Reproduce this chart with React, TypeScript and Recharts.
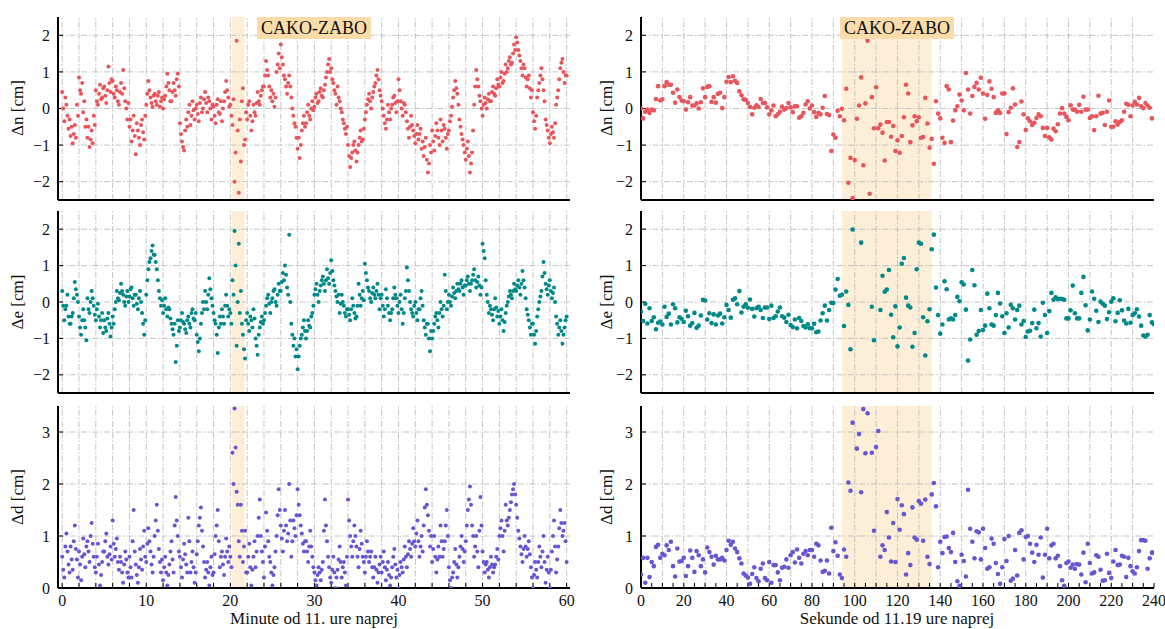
import React from 'react';
import { ScatterChart, Scatter, XAxis, YAxis, ReferenceLine, ReferenceArea } from 'recharts';

const FONT = '"Liberation Serif", "DejaVu Serif", serif';

// left column: minutes after 11h, eight readings per minute (one row = one minute)
const minuteDn = [
  0.45, 0.0, -0.35, 0.3, 0.1, -0.2, -0.55, -0.3,
  -0.75, -0.5, -0.95, -0.7, -0.45, -0.8, 0.1, -0.2,
  0.85, 0.5, 0.4, 0.7, -0.1, 0.2, -0.5, -0.3,
  -0.8, -0.5, -1.05, -0.85, -0.6, -0.95, -0.2, -0.45,
  0.5, 0.2, 0.1, 0.4, 0.65, 0.25, 0.3, 0.55,
  0.6, 0.35, 0.15, 0.5, 1.15, 0.7, 0.45, 0.8,
  0.75, 0.4, 0.3, 0.6, 0.5, 0.2, 0.1, 0.45,
  0.7, 0.4, 1.05, 0.55, 0.2, 0.0, -0.3, 0.15,
  -0.5, -0.3, -0.9, -0.6, -0.2, -0.75, -1.25, -0.4,
  -0.6, -0.8, -1.0, -0.45, -0.3, -0.65, -0.85, -0.2,
  0.1, 0.4, 0.75, 0.5, 0.3, 0.15, 0.05, 0.35,
  0.4, 0.2, 0.1, 0.35, 0.45, 0.05, 0.2, 0.3,
  0.0, 0.25, 0.35, 0.6, 0.95, 0.7, 0.5, 0.2,
  0.2, 0.45, 0.7, 0.5, 0.35, 0.8, 0.95, 0.6,
  -0.4, -0.7, -0.9, -1.05, -1.15, -0.6, -0.3, -0.5,
  -0.1, 0.1, -0.45, -0.2, 0.2, -0.05, -0.3, 0.0,
  0.1, -0.15, -0.35, 0.15, 0.3, -0.1, 0.0, 0.25,
  0.45, 0.15, -0.1, 0.3, 0.2, 0.0, -0.3, 0.1,
  0.05, -0.2, -0.4, 0.1, 0.25, -0.1, -0.15, 0.2,
  -0.35, 0.0, 0.2, 0.45, 0.75, 0.5, 0.3, 0.05,
  0.1, -0.2, -0.45, 0.25, -2.0, -1.2, 1.85, -0.6,
  -2.3, -0.3, -1.45, 0.2, 0.55, -1.0, -0.85, -0.1,
  -0.3, 0.1, 0.2, -0.2, -0.6, -0.35, 0.1, -0.1,
  -0.2, 0.15, 0.45, 0.2, 0.1, 0.35, 0.5, 0.6,
  0.6, 0.9, 1.3, 1.05, 0.9, 0.6, 0.3, 0.5,
  0.2, 0.4, 0.05, 0.3, 1.0, 1.2, 1.5, 1.1,
  1.75, 1.4, 1.2, 0.9, 0.8, 0.6, 0.4, 0.7,
  0.9, 0.6, 0.3, 0.0, -0.2, -0.4, -0.5, -0.8,
  -1.1, -0.8, -1.35, -1.0, -0.6, -0.4, -0.2, -0.5,
  -0.4, -0.1, 0.1, -0.2, -0.3, 0.0, 0.2, -0.05,
  0.05, 0.3, 0.4, 0.15, 0.2, 0.45, 0.55, 0.35,
  0.3, 0.5, 0.65, 0.85, 1.0, 1.2, 1.35, 1.0,
  1.1, 0.8, 0.7, 0.5, 0.4, 0.1, 0.6, 0.3,
  0.2, 0.0, -0.1, -0.3, -0.4, -0.55, -0.7, -0.5,
  -1.0, -1.3, -1.6, -1.35, -1.2, -1.0, -0.9, -1.15,
  -1.45, -1.2, -1.0, -0.8, -0.6, -0.9, -0.85, -0.55,
  -0.3, -0.1, 0.1, 0.25, 0.4, 0.2, 0.0, 0.3,
  0.45, 0.6, 0.7, 0.9, 1.05, 0.8, 0.5, 0.35,
  0.2, 0.0, -0.2, -0.4, -0.55, -0.3, 0.1, -0.1,
  -0.3, 0.0, 0.1, 0.3, 0.35, 0.15, -0.1, 0.2,
  0.8, 0.5, 0.2, 0.0, -0.2, 0.15, 0.1, -0.1,
  -0.35, -0.55, -0.8, -0.5, -0.2, -0.45, -0.6, -0.75,
  -0.95, -0.7, -0.45, -0.85, -0.7, -0.55, -1.1, -0.9,
  -1.3, -1.05, -0.8, -1.4, -1.75, -1.5, -1.0, -1.2,
  -0.6, -0.9, -1.15, -0.75, -0.4, -0.6, -0.8, -1.0,
  -0.3, -0.6, -0.9, -0.45, -0.55, -0.8, -1.1, -0.7,
  -0.6, -0.35, -0.2, 0.05, 0.3, 0.5, 0.75, 0.55,
  0.4, 0.1, -0.3, -0.5, -0.7, -0.85, -1.0, -1.2,
  -1.4, -1.1, -0.9, -1.3, -1.75, -1.5, -1.2, -0.6,
  0.1, 0.6, 1.05, 0.8, 0.6, 0.35, 0.2, 0.0,
  -0.2, 0.1, 0.3, 0.15, 0.0, 0.25, 0.4, 0.2,
  0.2, 0.45, 0.6, 0.4, 0.35, 0.55, 0.8, 0.65,
  0.6, 0.85, 1.0, 0.7, 0.75, 0.95, 1.2, 1.0,
  1.1, 1.3, 1.4, 1.2, 1.25, 1.5, 1.75, 1.6,
  1.95, 1.8, 1.6, 1.45, 1.3, 1.1, 0.9, 1.2,
  1.1, 0.85, 0.6, 0.8, 0.9, 0.55, 0.3, 0.5,
  -0.1, -0.35, -0.55, -0.2, 0.3, 0.5, 0.7, 0.9,
  1.1, 0.8, 0.5, 0.2, -0.3, -0.45, -0.6, -0.8,
  -0.95, -0.7, -0.5, -0.65, -0.8, -0.4, 0.1, 0.3,
  0.5, 0.8, 1.1, 1.25, 1.35, 1.0, 0.7, 0.9,
  0.9,
];

const minuteDe = [
  0.3, -0.1, -0.5, -0.2, -0.1, 0.2, -0.4, -0.6,
  -0.6, -0.4, -0.3, 0.1, 0.55, 0.35, 0.2, 0.0,
  -0.4, -0.7, -0.9, -0.5, -0.2, -0.5, -0.7, -1.05,
  0.1, -0.2, -0.3, 0.0, 0.3, 0.1, -0.1, -0.35,
  -0.5, -0.2, -0.05, -0.4, -0.7, -0.5, -0.3, -0.85,
  -0.5, -0.7, -0.8, -0.45, -0.3, -0.6, -0.95, -0.7,
  -0.4, -0.6, -0.2, 0.0, 0.3, 0.1, 0.05, 0.25,
  0.5, 0.3, 0.2, 0.0, -0.1, 0.15, 0.3, 0.0,
  0.15, 0.35, 0.4, 0.1, -0.1, 0.2, 0.2, -0.05,
  -0.2, 0.1, 0.3, 0.0, -0.3, -0.6, -0.9, -0.5,
  0.2, 0.6, 0.9, 1.1, 1.2, 1.4, 1.55, 1.3,
  1.3, 1.1, 0.9, 0.6, 0.3, 0.1, -0.1, 0.05,
  -0.3, -0.1, 0.1, -0.2, -0.4, -0.15, -0.2, -0.45,
  -0.6, -0.75, -0.9, -0.6, -1.65, -1.2, -0.5, -0.8,
  -0.7, -0.5, -0.3, -0.55, -0.6, -0.75, -0.85, -0.5,
  -0.4, -0.6, -0.7, -0.3, -0.2, -0.45, -0.5, -0.3,
  -0.9, -1.1, -1.35, -1.0, -0.6, -0.3, 0.0, -0.2,
  0.3, 0.0, -0.2, 0.2, 0.65, 0.35, 0.1, -0.1,
  -0.3, -0.5, -0.6, -0.9, -1.4, -0.7, -0.4, -0.6,
  -0.2, -0.4, -0.6, -0.1, 0.2, -0.1, -0.4, -0.2,
  -0.3, -0.6, 0.6, 0.2, 1.95, 1.0, -1.2, 0.0,
  1.6, -0.3, 0.3, -0.6, -0.9, -1.3, -1.55, -0.5,
  -0.3, -0.6, -0.8, -0.4, -0.5, -0.7, -0.2, -0.45,
  -1.0, -1.2, -1.45, -0.9, -0.7, -0.55, -0.4, -0.6,
  -0.5, -0.3, -0.1, 0.1, 0.2, -0.05, -0.3, 0.0,
  0.1, 0.3, 0.35, 0.0, -0.1, 0.2, 0.5, 0.3,
  0.3, 0.55, 0.8, 0.6, 1.0, 0.75, 0.4, 0.2,
  1.85, 0.0, -0.6, -0.9, -1.2, -1.0, -1.5, -1.3,
  -1.85, -1.5, -1.2, -1.0, -0.9, -0.7, -0.5, -0.8,
  -1.0, -0.8, -0.5, -0.65, -0.7, -0.4, -0.3, -0.1,
  0.2, 0.35, 0.5, 0.2, 0.0, 0.3, 0.45, 0.6,
  0.7, 0.5, 0.3, 0.6, 0.9, 0.65, 0.5, 0.8,
  1.15, 0.85, 0.6, 0.45, 0.3, 0.15, 0.0, 0.2,
  -0.3, -0.05, 0.2, 0.0, -0.1, -0.3, -0.4, -0.2,
  -0.2, -0.35, -0.5, -0.2, 0.1, -0.1, -0.3, -0.45,
  -0.4, -0.1, 0.5, 0.2, -0.1, 0.1, 0.3, 0.05,
  1.05, 0.8, 0.6, 0.4, 0.3, 0.1, 0.0, 0.25,
  0.4, 0.2, 0.1, 0.3, 0.5, 0.2, -0.2, 0.1,
  0.2, -0.1, -0.4, -0.2, 0.35, 0.1, -0.1, -0.3,
  -0.5, -0.3, -0.2, 0.1, 0.4, 0.2, 0.1, -0.1,
  -0.3, 0.0, 0.2, -0.2, -0.6, -0.3, 0.1, 0.3,
  0.95, 0.6, 0.3, 0.0, -0.2, -0.3, -0.4, -0.1,
  0.0, -0.3, -0.5, -0.2, -0.2, 0.1, 0.3, -0.1,
  -0.5, -0.7, -0.9, -0.6, -0.6, -1.0, -1.35, -0.8,
  -1.0, -0.8, -0.6, -0.4, -0.3, -0.5, -0.7, -0.3,
  0.0, -0.2, -0.4, -0.1, 0.75, 0.3, -0.2, 0.0,
  0.2, 0.0, -0.1, 0.15, 0.4, 0.25, 0.1, 0.3,
  0.5, 0.35, 0.3, 0.5, 0.6, 0.4, 0.2, 0.45,
  0.45, 0.6, 0.7, 0.5, 0.3, 0.5, 0.6, 0.75,
  0.9, 0.6, 0.4, 0.55, 0.7, 0.45, 0.2, 0.4,
  1.6, 1.4, 1.2, 0.6, 0.2, 0.0, -0.3, -0.1,
  -0.2, -0.35, -0.5, -0.2, 0.1, -0.15, -0.4, -0.25,
  -0.6, -0.4, -0.2, -0.5, -0.8, -0.55, -0.3, -0.1,
  0.0, 0.15, 0.3, 0.2, 0.1, 0.3, 0.5, 0.35,
  0.3, 0.45, 0.6, 0.4, 0.2, 0.5, 0.85, 0.6,
  0.4, 0.1, -0.2, -0.35, -0.5, -0.7, -0.9, -0.6,
  -0.6, -0.9, -1.15, -0.8, -0.4, -0.2, 0.0, 0.15,
  0.3, 0.7, 1.1, 0.8, 0.5, 0.35, 0.2, 0.45,
  0.6, 0.3, 0.1, 0.25, 0.4, 0.0, -0.4, -0.6,
  -0.9, -0.7, -0.5, -0.8, -1.15, -0.9, -0.7, -0.5,
  -0.4,
];

const minuteDd = [
  0.6, 0.35, 0.2, 0.8, 1.05, 0.7, 0.45, 0.3,
  0.8, 0.55, 0.35, 0.9, 1.2, 0.75, 0.55, 0.2,
  0.7, 0.45, 0.15, 0.6, 0.95, 0.65, 0.4, 0.8,
  0.9, 0.7, 0.5, 1.0, 1.25, 0.85, 0.6, 0.4,
  0.3, 0.6, 0.85, 0.45, 0.05, 0.25, 0.5, 0.7,
  0.7, 0.9, 1.05, 0.6, 0.45, 0.65, 0.8, 0.55,
  1.3, 0.85, 0.6, 0.75, 0.95, 0.5, 0.35, 0.6,
  0.5, 0.3, 0.1, 0.45, 0.7, 0.55, 0.3, 0.2,
  0.6, 0.4, 0.2, 0.9, 1.5, 0.7, 0.45, 0.25,
  0.1, 0.4, 0.75, 0.55, 0.35, 0.8, 1.1, 0.6,
  0.5, 0.85, 1.15, 0.9, 0.7, 0.45, 0.3, 0.6,
  1.0, 1.3, 1.6, 1.1, 0.75, 0.5, 0.3, 0.55,
  0.15, 0.4, 0.6, 0.3, 0.05, 0.25, 0.45, 0.7,
  0.9, 0.55, 0.3, 1.2, 1.75, 1.3, 1.0, 0.7,
  0.6, 0.4, 0.2, 0.55, 0.85, 0.65, 0.45, 0.3,
  1.35, 0.9, 0.3, 0.5, 0.7, 0.4, 0.1, 0.3,
  0.65, 0.9, 1.2, 1.35, 1.55, 1.1, 0.8, 0.5,
  0.2, 0.35, 0.5, 0.3, 0.05, 0.4, 0.6, 0.25,
  0.3, 0.65, 1.0, 1.2, 1.5, 0.9, 0.4, 0.6,
  0.7, 0.45, 0.25, 0.6, 0.95, 0.7, 0.5, 0.8,
  0.6, 0.4, 2.6, 2.0, 3.45, 2.7, 1.85, 1.6,
  0.9, 0.6, 1.6, 1.1, 0.5, 0.8, 1.1, 0.3,
  0.3, 0.6, 0.85, 0.4, 0.05, 0.35, 0.6, 0.9,
  0.4, 0.7, 1.0, 1.35, 1.7, 1.0, 0.7, 0.5,
  0.2, 0.8, 1.45, 1.1, 0.9, 0.6, 0.5, 0.3,
  0.05, 0.25, 0.4, 0.7, 1.0, 1.4, 1.9, 1.5,
  1.2, 0.95, 0.7, 1.1, 1.5, 1.2, 0.9, 1.05,
  2.0, 1.3, 0.6, 0.9, 1.3, 1.15, 1.0, 1.4,
  1.9, 1.6, 1.4, 1.2, 1.05, 0.85, 0.7, 0.9,
  0.9, 0.7, 0.5, 0.8, 1.1, 0.8, 0.6, 0.4,
  0.3, 0.15, 0.05, 0.25, 0.4, 0.3, 0.15, 0.35,
  0.5, 1.1, 1.7, 1.2, 0.9, 0.6, 0.4, 0.2,
  0.1, 0.35, 0.6, 0.3, 0.0, 0.2, 0.35, 0.55,
  0.8, 0.5, 0.2, 0.4, 0.5, 0.3, 0.05, 0.6,
  1.7, 1.3, 1.0, 0.8, 0.6, 0.9, 1.2, 1.0,
  0.8, 0.6, 0.4, 0.75, 1.1, 0.85, 0.6, 0.5,
  0.3, 0.6, 0.9, 0.7, 0.5, 0.6, 0.7, 0.4,
  0.2, 0.4, 0.6, 0.35, 0.1, 0.3, 0.45, 0.6,
  0.3, 0.5, 0.7, 0.4, 0.15, 0.35, 0.5, 0.25,
  0.05, 0.2, 0.4, 0.6, 0.75, 0.45, 0.2, 0.35,
  0.0, 0.25, 0.5, 0.4, 0.3, 0.55, 0.8, 0.6,
  0.4, 0.65, 0.9, 0.75, 0.6, 0.85, 1.15, 0.9,
  0.8, 1.05, 1.3, 0.9, 0.6, 0.8, 1.0, 0.7,
  1.2, 1.55, 1.9, 1.6, 1.4, 1.1, 0.8, 1.0,
  0.5, 0.75, 1.0, 0.6, 0.3, 0.55, 0.8, 0.6,
  1.2, 0.9, 0.6, 0.75, 0.9, 1.2, 1.5, 1.0,
  0.4, 0.15, 0.0, 0.2, 0.3, 0.5, 0.75, 0.45,
  0.2, 0.4, 0.6, 0.8, 1.0, 0.75, 0.5, 0.7,
  0.9, 1.2, 1.5, 1.7, 1.95, 1.6, 1.2, 1.0,
  0.6, 0.8, 1.0, 0.7, 0.4, 1.1, 1.75, 1.2,
  0.7, 0.5, 0.3, 0.45, 0.5, 0.35, 0.2, 0.4,
  0.6, 0.45, 0.3, 0.4, 0.45, 0.6, 0.75, 0.55,
  1.0, 1.15, 1.3, 1.0, 0.7, 1.1, 1.6, 1.3,
  1.2, 1.35, 1.5, 1.65, 1.8, 1.9, 2.0, 1.8,
  1.6, 1.35, 1.1, 0.95, 0.8, 0.65, 0.5, 0.75,
  1.0, 0.8, 0.6, 0.75, 0.9, 0.65, 0.4, 0.2,
  0.0, 0.25, 0.5, 0.35, 0.2, 0.5, 0.8, 0.6,
  0.4, 0.7, 1.0, 0.5, 0.1, 0.35, 0.6, 0.3,
  0.0, 0.35, 0.7, 1.0, 1.3, 0.8, 0.3, 0.55,
  0.8, 1.15, 1.5, 1.25, 1.0, 1.1, 1.25, 0.9,
  0.5,
];

// right column: seconds after 11:19, one reading per second (null = no solution)
const secondDn = [
  0, -0.27, -0.09, -0.03, -0.12, -0.03, -0.05, 0.26, 0.61, 0.22,
  0.25, 0.61, 0.72, 0.65, 0.65, 0.43, 0.16, 0.52, 0.31, 0.22,
  0.2, -0.03, 0.17, 0.31, 0.08, 0.08, 0.14, 0, 0.17, 0.55,
  0.31, 0.59, 0.61, 0.18, 0.31, 0.16, 0.4, 0.43, 0.01, 0.31,
  0.73, 0.86, 0.72, 0.88, 0.76, 0.7, 0.47, 0.36, 0.25, 0.24,
  0.15, 0.04, -0.16, 0.02, 0.09, 0.04, 0.26, 0.15, 0.15, 0.03,
  -0.16, -0.05, 0.08, -0.21, -0.16, -0.09, 0.05, -0.03, 0.01, 0.15,
  0.03, -0.1, 0.06, 0.06, -0.25, -0.21, -0.12, 0.11, 0.2, 0,
  0.08, -0.1, -0.23, -0.12, -0.16, 0.02, 0.34, -0.15, -0.18, -1.16,
  -0.71, -0.8, -0.06, -0.21, -0.01, -0.32, 0.54, -2.03, -1.35, -2.45,
  -1.41, -0.28, 0.08, 0.85, -1.55, 0.14, 1.85, -2.33, 0.31, -0.54,
  0.58, -0.54, -0.44, -0.66, -1.42, -0.37, -0.37, -0.77, -0.48, -1.16,
  -0.87, -1.21, -0.75, -0.24, 0.65, 0.41, -0.92, -0.46, -0.21, -0.35,
  -0.24, -0.8, -0.78, 0.29, -0.41, -1.07, -0.83, -1.51, 0.2, -0.14,
  -0.27, -0.8, -0.94, 0.61, 0.52, -0.92, -0.33, -0.05, 0.06, 0.38,
  0.22, -0.05, 0.97, 0.52, -0.14, 0.34, 0.59, 0.7, 0.52, 0.84,
  0.41, -0.28, 0.37, 0.74, 0.54, 0.31, -0.12, -0.05, -0.12, 0.41,
  0.41, -0.7, -0.1, 0.02, 0.55, 0.11, -1.05, -0.92, 0.19, -0.16,
  -0.59, -0.27, -0.35, -0.45, -0.39, -0.26, -0.16, -0.21, -0.53, -0.75,
  -0.53, -0.79, -0.85, -0.55, -0.62, -0.43, -0.14, 0.01, -0.14, -0.23,
  -0.32, 0.09, -0.03, -0.03, -0.09, 0.1, -0.09, 0.32, -0.03, -0.03,
  -0.26, -0.21, -0.59, -0.21, 0.35, -0.14, -0.12, -0.45, -0.09, 0.22,
  -0.5, -0.5, -0.35, -0.44, -0.37, -0.32, -0.09, 0.13, 0.1, -0.21,
  0.08, 0.18, 0.11, 0.29, 0.06, 0.01, 0.15, 0.08, 0.02, -0.27,
];

const secondDe = [
  -0.27, -0.52, -0.05, -0.59, -0.17, -0.52, -0.42, -0.75, -0.57, -0.54,
  -0.62, -0.13, -0.41, -0.32, -0.62, -0.06, -0.17, -0.56, -0.42, -0.46,
  -0.55, -0.24, -0.39, -0.65, -0.58, -0.3, -0.71, -0.65, -0.37, 0.06,
  0.04, -0.48, -0.31, -0.58, -0.34, -0.62, -0.37, -0.32, -0.59, -0.42,
  -0.08, -0.22, -0.43, 0.06, 0.1, -0.06, 0.3, -0.29, -0.13, -0.06,
  -0.16, 0.07, -0.19, -0.4, -0.17, -0.13, -0.22, -0.44, -0.15, -0.15,
  -0.47, -0.1, -0.44, -0.39, -0.26, -0.15, -0.39, -0.43, -0.55, -0.35,
  -0.63, -0.69, -0.48, -0.72, -0.44, -0.52, -0.66, -0.7, -0.61, -0.72,
  -0.72, -0.6, -0.83, -0.81, -0.51, -0.31, -0.1, -0.51, -0.22, -0.02,
  -0.03, 0.34, 0.63, 0.17, 0.2, -0.66, 0.29, -0.08, -1.3, 1.99,
  null, null, null, 1.63, null, null, null, null, -0.13, -1.05,
  null, null, -0.22, 0.72, 0.28, 0.34, 0.88, -0.35, -0.97, -0.12,
  -1.22, -0.7, 1.05, 1.21, 0.12, -0.1, -0.15, -1.23, -0.85, 0.9,
  1.63, 1.6, -0.42, -1.47, -0.53, -0.2, 1.45, 1.85, 0.4, -0.36,
  -0.87, -0.62, 0.57, 0.35, -0.48, -0.45, -0.48, -0.36, 0.14, 0.02,
  0.54, 0.48, -0.21, -1.61, -1.03, 0.88, 0.46, -0.9, -0.8, -0.22,
  -0.77, -0.65, 0.23, -0.17, -0.62, -0.65, -0.36, 0.25, -0.04, -0.39,
  -0.85, -0.31, -0.7, -0.08, -0.17, -0.48, -0.22, -0.1, -0.62, -0.52,
  -0.96, -0.81, -0.79, -0.58, -0.21, -0.72, -0.58, -0.95, -0.02, -0.36,
  -0.85, -0.25, 0.25, 0.06, 0.13, 0.08, 0.09, 0.08, 0.06, -0.45,
  -0.45, -0.23, 0.45, -0.31, -0.45, -0.45, 0.25, 0.69, -0.09, -0.78,
  -0.48, 0.29, 0.09, -0.24, -0.55, 0.01, -0.05, -0.1, -0.47, -0.28,
  0.01, 0.1, -0.53, -0.3, 0.05, -0.23, -0.51, -0.59, -0.19, -0.57,
  -0.36, -0.31, -0.2, -0.4, -0.65, -0.92, -0.95, -0.9, -0.36, -0.56,
  -0.61,
];

const secondDd = [
  0.26, 0.58, 0.1, 0.58, 0.21, 0.5, 0.42, 0.79, 0.83, 0.58,
  0.66, 0.63, 0.82, 0.73, 0.89, 0.42, 0.22, 0.76, 0.51, 0.52,
  0.58, 0.23, 0.42, 0.72, 0.58, 0.31, 0.71, 0.63, 0.42, 0.55,
  0.3, 0.78, 0.69, 0.6, 0.45, 0.62, 0.55, 0.55, 0.58, 0.53,
  0.73, 0.91, 0.83, 0.89, 0.76, 0.69, 0.57, 0.47, 0.28, 0.24,
  0.2, 0.08, 0.27, 0.4, 0.19, 0.13, 0.37, 0.47, 0.19, 0.15,
  0.5, 0.1, 0.44, 0.44, 0.3, 0.15, 0.39, 0.41, 0.55, 0.39,
  0.63, 0.69, 0.49, 0.74, 0.58, 0.47, 0.66, 0.71, 0.63, 0.73,
  0.73, 0.6, 0.85, 0.82, 0.53, 0.31, 0.33, 0.53, 0.28, 1.16,
  0.71, 0.88, 0.62, 0.26, 0.19, 0.74, 0.6, 2.03, 1.87, 3.18,
  null, 2.68, 2.96, 1.84, 3.44, 2.59, 3.36, null, 2.6, 1.1,
  2.71, 3.02, 0.6, 0.82, 0.73, 1.46, 0.97, 0.51, 1.25, 0.5,
  1.71, 1.12, 1.59, 1.42, 0.26, 0.67, 0.44, 1.55, 0.97, 0.93,
  1.67, 1.62, 0.91, 1.7, 0.6, 0.46, 1.8, 2.02, 1.57, 0.4,
  0.89, 0.67, 0.98, 0.99, 0.77, 0.69, 1.06, 0.5, 0.13, 0.04,
  0.64, 0.52, 0.22, 1.89, 1.14, 0.89, 0.57, 1.09, 1.07, 0.55,
  1.14, 0.77, 0.37, 0.4, 0.95, 0.85, 0.48, 0.27, 0.08, 0.4,
  0.94, 0.52, 1.0, 0.14, 0.18, 0.73, 0.24, 1.06, 1.11, 0.55,
  0.98, 1.0, 0.85, 0.68, 0.5, 0.83, 0.64, 0.97, 0.2, 0.64,
  1.14, 0.57, 0.82, 0.85, 0.57, 0.62, 0.42, 0.15, 0.04, 0.48,
  0.51, 0.39, 0.45, 0.37, 0.46, 0.45, 0.26, 0.68, 0.11, 0.85,
  0.48, 0.28, 0.3, 0.63, 0.6, 0.35, 0.14, 0.15, 0.66, 0.29,
  0.19, 0.51, 0.73, 0.44, 0.45, 0.62, 0.6, 0.21, 0.58, 0.42,
  0.32, 0.28, 0.4, 0.71, 0.92, 0.92, 0.91, 0.37, 0.57, 0.68,
  0.68,
];

const minuteTicks = [0, 2, 4, 6, 8, 10, 12, 14, 16, 18, 20, 22, 24, 26, 28, 30, 32, 34, 36, 38, 40, 42, 44, 46, 48, 50, 52, 54, 56, 58, 60];
const minuteLabels = [0, 10, 20, 30, 40, 50, 60];
const secondTicks = [0, 5, 10, 15, 20, 25, 30, 35, 40, 45, 50, 55, 60, 65, 70, 75, 80, 85, 90, 95, 100, 105, 110, 115, 120, 125, 130, 135, 140, 145, 150, 155, 160, 165, 170, 175, 180, 185, 190, 195, 200, 205, 210, 215, 220, 225, 230, 235, 240];
const secondGrid = [10, 20, 30, 40, 50, 60, 70, 80, 90, 100, 110, 120, 130, 140, 150, 160, 170, 180, 190, 200, 210, 220, 230];
const secondLabels = [0, 20, 40, 60, 80, 100, 120, 140, 160, 180, 200, 220, 240];
const neTicks = [-2, -1, 0, 1, 2];
const dTicks = [0, 1, 2, 3];
const dGrid = [1, 2, 3];

const minuteBand = [20.2, 21.7];
const secondBand = [94, 136];

const RED = '#e8555b';
const TEAL = '#00898a';
const PURPLE = '#6656d2';

const toPoints = (vals: (number | null)[], step: number) =>
  vals.map((y, i) => ({ x: i * step, y })).filter((p) => p.y !== null);

const fmtY = (v: number) => (v < 0 ? `\u2212${-v}` : `${v}`);

interface PanelProps {
  left: number;
  top: number;
  w: number;
  h: number;
  points: { x: number; y: number | null }[];
  color: string;
  r: number;
  xDomain: number[];
  xTicks: number[];
  xGrid: number[];
  xLabels?: number[];
  yDomain: number[];
  yTicks: number[];
  yGrid: number[];
  band: number[];
}

function Panel(p: PanelProps) {
  const PL = 60;
  const PT = 10;
  const PB = 40;
  const PR = 20;
  const tickStyle = { fontSize: 16, fill: '#111', fontFamily: FONT };
  const frame = { stroke: '#000', strokeWidth: 2 };
  const tl = { stroke: '#000', strokeWidth: 1 };
  const gridStyle = { stroke: '#bdbdbd', strokeDasharray: '6 2 1.5 2', strokeWidth: 0.9 };
  const fmtX = (v: number) => (p.xLabels && p.xLabels.includes(v) ? `${v}` : '');
  return (
    <div style={{ position: 'absolute', left: p.left - PL, top: p.top - PT }}>
      <ScatterChart
        width={p.w + PL + PR}
        height={p.h + PT + PB}
        margin={{ top: PT, right: PR, bottom: 0, left: 0 }}
      >
        <XAxis
          xAxisId="b"
          type="number"
          dataKey="x"
          domain={p.xDomain}
          ticks={p.xTicks}
          interval={0}
          allowDataOverflow
          height={PB}
          tickSize={-5}
          tickMargin={12}
          tick={p.xLabels ? tickStyle : false}
          tickFormatter={fmtX}
          axisLine={frame}
          tickLine={tl}
        />
        <XAxis
          xAxisId="t"
          orientation="top"
          type="number"
          domain={p.xDomain}
          ticks={p.xTicks}
          interval={0}
          allowDataOverflow
          height={0}
          tickSize={-5}
          tick={false}
          axisLine={frame}
          tickLine={tl}
        />
        <YAxis
          yAxisId="l"
          type="number"
          dataKey="y"
          domain={p.yDomain}
          ticks={p.yTicks}
          interval={0}
          allowDataOverflow
          width={PL}
          tickSize={-5}
          tickMargin={13}
          tick={tickStyle}
          tickFormatter={fmtY}
          axisLine={frame}
          tickLine={tl}
        />
        <YAxis
          yAxisId="r"
          orientation="right"
          type="number"
          domain={p.yDomain}
          ticks={p.yTicks}
          interval={0}
          allowDataOverflow
          width={0}
          tickSize={-5}
          tick={false}
          axisLine={frame}
          tickLine={tl}
        />
        <ReferenceArea
          xAxisId="b"
          yAxisId="l"
          x1={p.band[0]}
          x2={p.band[1]}
          fill="#fbe0b0"
          fillOpacity={0.5}
          stroke="none"
        />
        {p.xGrid.map((v) => (
          <ReferenceLine key={'gx' + v} xAxisId="b" yAxisId="l" x={v} {...gridStyle} />
        ))}
        {p.yGrid.map((v) => (
          <ReferenceLine key={'gy' + v} xAxisId="b" yAxisId="l" y={v} {...gridStyle} />
        ))}
        <Scatter
          xAxisId="b"
          yAxisId="l"
          data={p.points}
          fill={p.color}
          isAnimationActive={false}
          shape={(s: any) => <circle cx={s.cx} cy={s.cy} r={p.r} fill={p.color} />}
        />
      </ScatterChart>
    </div>
  );
}

const tagStyle = (cx: number): React.CSSProperties => ({
  position: 'absolute',
  left: cx,
  top: 17,
  transform: 'translateX(-50%)',
  background: '#f9dcaa',
  padding: '0px 4px',
  fontFamily: FONT,
  fontSize: 18,
  lineHeight: '22px',
  color: '#111',
  whiteSpace: 'nowrap',
});

const yLabel = (x: number, y: number): React.CSSProperties => ({
  position: 'absolute',
  left: x,
  top: y,
  transform: 'translate(-50%, -50%) rotate(-90deg)',
  fontFamily: FONT,
  fontSize: 17,
  color: '#111',
  whiteSpace: 'nowrap',
});

const xLabel = (cx: number): React.CSSProperties => ({
  position: 'absolute',
  left: cx,
  top: 610,
  transform: 'translateX(-50%)',
  fontFamily: FONT,
  fontSize: 17,
  lineHeight: '17px',
  color: '#111',
  whiteSpace: 'nowrap',
});

export default function App() {
  const lx = { left: 58, w: 512, xDomain: [-0.5, 60.4], xTicks: minuteTicks, xGrid: minuteTicks, band: minuteBand, r: 2.0 };
  const rx = { left: 641, w: 513, xDomain: [0, 240], xTicks: secondTicks, xGrid: secondGrid, band: secondBand, r: 2.3 };
  const rows = [
    { top: 17, h: 183, yDomain: [-2.5, 2.5], yTicks: neTicks, yGrid: neTicks },
    { top: 211, h: 182, yDomain: [-2.5, 2.5], yTicks: neTicks, yGrid: neTicks },
    { top: 406, h: 182, yDomain: [0, 3.5], yTicks: dTicks, yGrid: dGrid },
  ];
  return (
    <div style={{ position: 'absolute', left: 0, top: 0, width: 1165, height: 629, background: '#fff', overflow: 'hidden' }}>
      <Panel {...lx} {...rows[0]} points={toPoints(minuteDn, 0.125)} color={RED} />
      <Panel {...lx} {...rows[1]} points={toPoints(minuteDe, 0.125)} color={TEAL} />
      <Panel {...lx} {...rows[2]} points={toPoints(minuteDd, 0.125)} color={PURPLE} xLabels={minuteLabels} />
      <Panel {...rx} {...rows[0]} points={toPoints(secondDn, 1)} color={RED} />
      <Panel {...rx} {...rows[1]} points={toPoints(secondDe, 1)} color={TEAL} />
      <Panel {...rx} {...rows[2]} points={toPoints(secondDd, 1)} color={PURPLE} xLabels={secondLabels} />

      <div style={tagStyle(314)}>CAKO-ZABO</div>
      <div style={tagStyle(897)}>CAKO-ZABO</div>

      <div style={yLabel(18, 108)}>Δn [cm]</div>
      <div style={yLabel(18, 302)}>Δe [cm]</div>
      <div style={yLabel(18, 497)}>Δd [cm]</div>
      <div style={yLabel(607, 108)}>Δn [cm]</div>
      <div style={yLabel(607, 302)}>Δe [cm]</div>
      <div style={yLabel(607, 497)}>Δd [cm]</div>

      <div style={xLabel(314)}>Minute od 11. ure naprej</div>
      <div style={xLabel(897)}>Sekunde od 11.19 ure naprej</div>
    </div>
  );
}
